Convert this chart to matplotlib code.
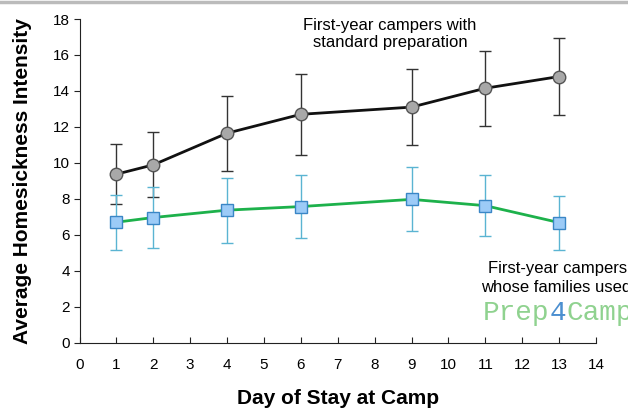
import matplotlib
matplotlib.use("Agg")
import matplotlib.pyplot as plt
from matplotlib.lines import Line2D

days = [1, 2, 4, 6, 9, 11, 13]
standard_mean = [9.37, 9.89, 11.65, 12.7, 13.1, 14.15, 14.8]
standard_err = [1.67, 1.81, 2.08, 2.25, 2.1, 2.08, 2.15]
prep_mean = [6.7, 6.96, 7.37, 7.57, 7.97, 7.62, 6.68]
prep_err = [1.53, 1.7, 1.8, 1.76, 1.78, 1.7, 1.5]
xticks = list(range(0, 15))
yticks = list(range(0, 19, 2))

plt.rcParams['font.family'] = ['Liberation Sans', 'DejaVu Sans']

fig = plt.figure(figsize=(6.28, 4.09), dpi=100)
ax = fig.add_axes([79.5 / 628, 1 - 342.7 / 409, (596 - 79.5) / 628, (342.7 - 19) / 409])

ax.errorbar(days, standard_mean, yerr=standard_err, fmt='none', ecolor='#333333',
            elinewidth=1.0, capsize=4.5, capthick=1.0, zorder=2)
ax.plot(days, standard_mean, color='#111111', lw=2.0, zorder=3)
ax.plot(days, standard_mean, 'o', ms=9, mfc='#a8a8a8', mec='#555555', mew=1.0, zorder=4)

ax.errorbar(days, prep_mean, yerr=prep_err, fmt='none', ecolor='#5ab4d2',
            elinewidth=1.0, capsize=4.5, capthick=1.0, zorder=2)
ax.plot(days, prep_mean, color='#1db14b', lw=2.0, zorder=3)
ax.plot(days, prep_mean, 's', ms=9, mfc='#9ccbf7', mec='#3a86c6', mew=1.0, zorder=4)

ax.set_xlim(0, 14)
ax.set_ylim(0, 18)
ax.set_xticks(xticks)
ax.set_yticks(yticks)
ax.spines['top'].set_visible(False)
ax.spines['right'].set_visible(False)
ax.spines['left'].set_color('#222222')
ax.spines['bottom'].set_color('#222222')
ax.tick_params(axis='x', direction='in', length=4, labelsize=11, pad=11, color='#222222')
ax.tick_params(axis='y', direction='out', length=4, labelsize=11, pad=3, color='#222222')

ax.set_xlabel('Day of Stay at Camp', fontsize=15, fontweight='bold', labelpad=12)
ax.set_ylabel('Average Homesickness Intensity', fontsize=15, fontweight='bold')
ax.yaxis.set_label_coords(-0.092, 0.5)

fig.text(390 / 628, 1 - 34 / 409, 'First-year campers with\nstandard preparation',
         ha='center', va='center', fontsize=12, linespacing=1.15)
fig.text(488 / 628, 1 - 268 / 409, 'First-year campers',
         ha='left', va='center', fontsize=12)
fig.text(481 / 628, 1 - 287 / 409, 'whose families used',
         ha='left', va='center', fontsize=12)

mono = ['Liberation Mono', 'DejaVu Sans Mono']
t1 = fig.text(483 / 628, 1 - 320 / 409, 'Prep', fontsize=20, family=mono, color='#8fd28f')
fig.canvas.draw()
r = fig.canvas.get_renderer()
bb = t1.get_window_extent(r)
t2 = fig.text(bb.x1 / 628, 1 - 320 / 409, '4', fontsize=20, family=mono, color='#4b8fd0')
bb2 = t2.get_window_extent(r)
fig.text(bb2.x1 / 628, 1 - 320 / 409, 'Camp', fontsize=20, family=mono, color='#8fd28f')

fig.add_artist(Line2D([0, 1], [1 - 1.5 / 409, 1 - 1.5 / 409], transform=fig.transFigure,
                      color='#bbbbbb', lw=2.5))

fig.savefig('out.png', dpi=100)
